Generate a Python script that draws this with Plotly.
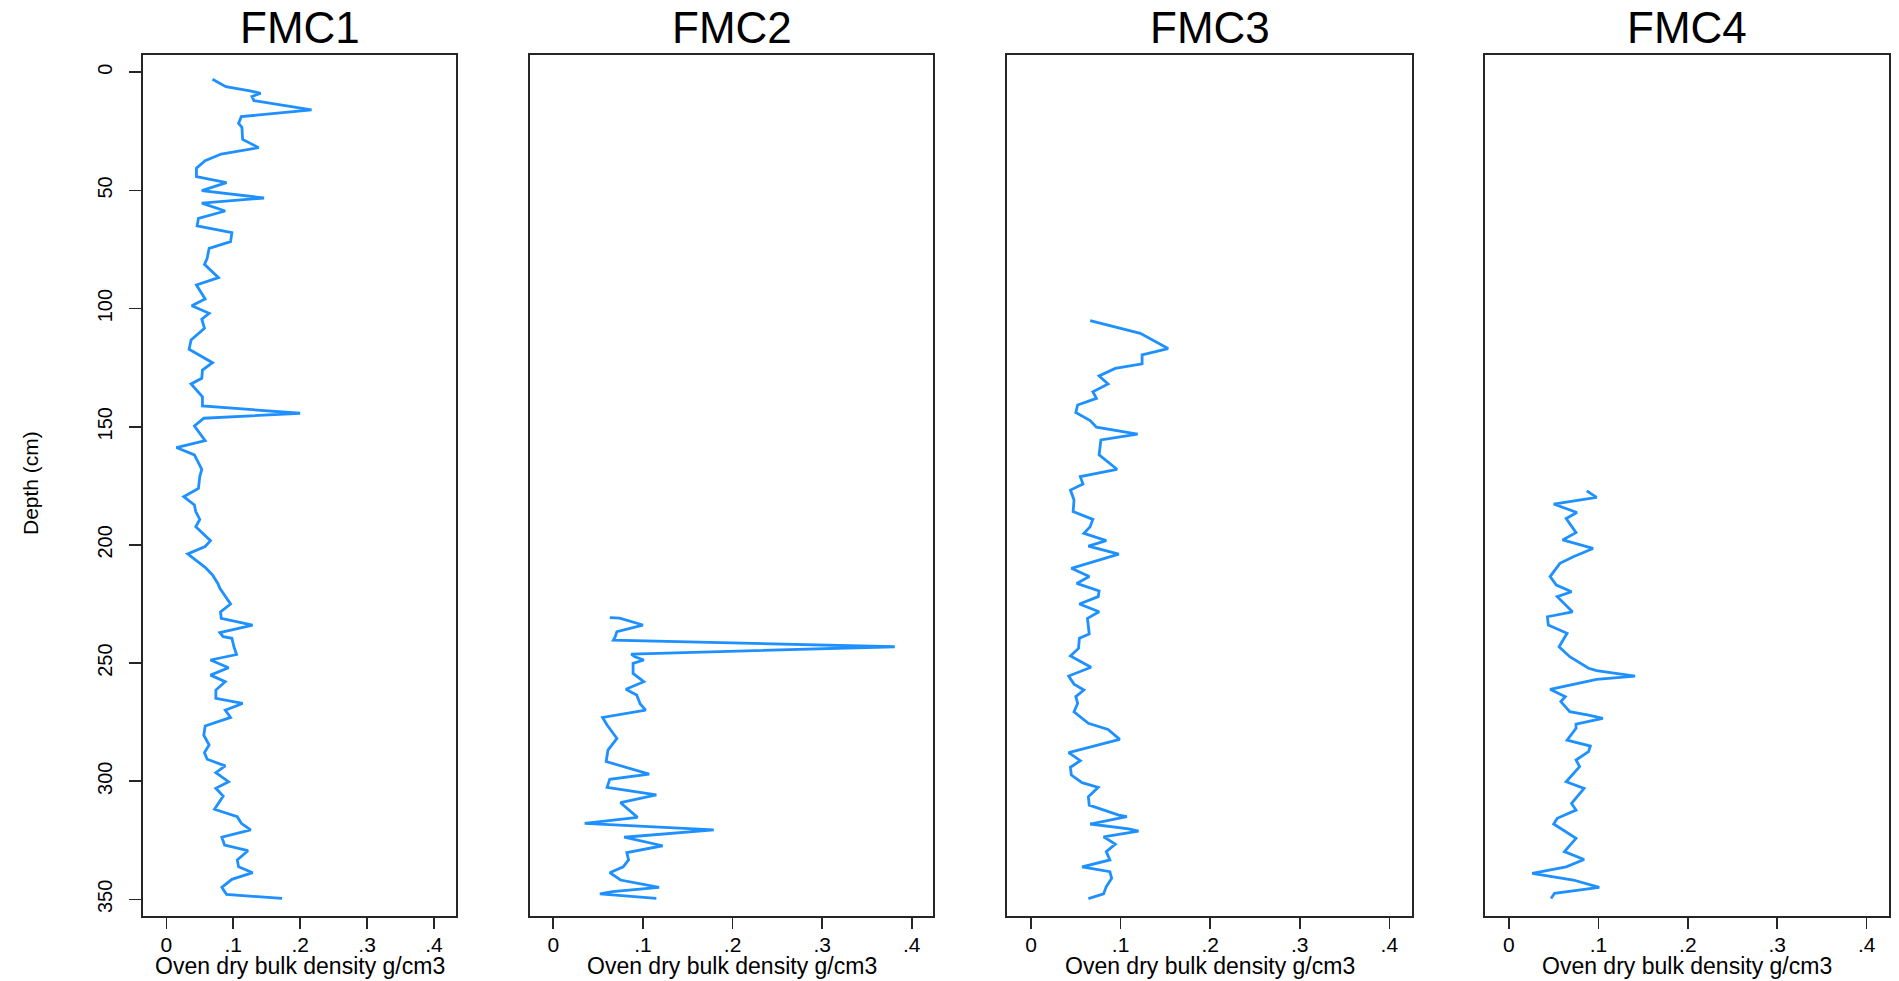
import plotly.graph_objects as go

# ---------------- data ----------------
CORES = ["FMC1", "FMC2", "FMC3", "FMC4"]

fmc1_depth = [3.0, 6.1, 7.9, 8.9, 10.3, 12.0, 15.9, 18.8, 21.6, 23.3, 28.4, 31.9, 34.6, 37.4,
              40.6, 44.2, 46.7, 50.1, 53.2, 55.4, 58.7, 61.8, 65.0, 67.9, 71.7, 74.5, 78.7,
              81.3, 86.9, 90.0, 95.9, 98.8, 102.0, 104.5, 108.3, 113.3, 117.2, 122.9, 126.0,
              129.5, 131.9, 137.3, 141.2, 144.3, 146.4, 149.7, 155.9, 158.8, 161.9, 168.0,
              171.1, 176.1, 179.6, 183.1, 185.9, 189.2, 192.3, 196.2, 198.2, 200.7, 203.8,
              206.4, 209.5, 212.7, 216.3, 218.4, 220.5, 225.0, 228.3, 231.1, 233.9, 237.1,
              238.8, 239.5, 243.1, 246.4, 248.7, 252.0, 255.1, 257.9, 261.4, 264.9, 267.1,
              269.9, 273.0, 276.6, 280.5, 284.7, 287.9, 290.7, 293.5, 296.4, 300.2, 303.0,
              306.3, 311.9, 315.0, 317.8, 320.6, 323.7, 327.0, 329.4, 333.3, 336.2, 338.7,
              341.5, 344.9, 347.9, 349.6]
fmc1_density = [0.069, 0.089, 0.125, 0.141, 0.128, 0.131, 0.217, 0.112, 0.108, 0.113, 0.114,
                0.138, 0.082, 0.058, 0.045, 0.045, 0.090, 0.053, 0.146, 0.053, 0.088, 0.048,
                0.046, 0.098, 0.096, 0.064, 0.061, 0.057, 0.078, 0.045, 0.058, 0.038, 0.064,
                0.053, 0.057, 0.037, 0.034, 0.069, 0.054, 0.053, 0.037, 0.054, 0.054, 0.200,
                0.056, 0.042, 0.058, 0.015, 0.042, 0.053, 0.050, 0.048, 0.026, 0.042, 0.044,
                0.050, 0.044, 0.058, 0.066, 0.058, 0.032, 0.044, 0.058, 0.069, 0.077, 0.080,
                0.085, 0.096, 0.081, 0.082, 0.129, 0.080, 0.085, 0.098, 0.101, 0.105, 0.066,
                0.093, 0.066, 0.088, 0.074, 0.074, 0.114, 0.088, 0.096, 0.058, 0.056, 0.064,
                0.057, 0.061, 0.088, 0.074, 0.093, 0.074, 0.085, 0.072, 0.106, 0.112, 0.126,
                0.083, 0.087, 0.122, 0.106, 0.108, 0.129, 0.098, 0.083, 0.090, 0.173]

fmc2_depth = [230.8, 231.0, 233.9, 236.7, 238.9, 240.3, 243.1, 246.2, 247.3, 248.7, 250.1,
              254.4, 257.9, 261.1, 263.5, 267.3, 269.9, 273.0, 276.2, 281.9, 286.8, 291.7,
              297.0, 299.2, 302.6, 305.8, 309.1, 315.3, 317.8, 320.6, 323.7, 324.8, 327.3,
              330.2, 333.3, 336.2, 338.7, 341.8, 344.9, 346.7, 347.7, 349.6]
fmc2_density = [0.063, 0.074, 0.100, 0.071, 0.069, 0.067, 0.381, 0.087, 0.091, 0.101, 0.089,
                0.089, 0.101, 0.081, 0.093, 0.097, 0.103, 0.055, 0.060, 0.071, 0.061, 0.059,
                0.107, 0.063, 0.060, 0.115, 0.075, 0.094, 0.035, 0.179, 0.079, 0.093, 0.122,
                0.082, 0.084, 0.078, 0.063, 0.075, 0.118, 0.066, 0.052, 0.115]

fmc3_depth = [105.1, 110.5, 116.9, 119.6, 123.4, 125.3, 128.5, 131.9, 135.2, 138.0, 140.8,
              144.0, 147.4, 150.2, 153.1, 155.6, 161.9, 168.0, 171.1, 174.2, 176.8, 181.0,
              185.9, 189.2, 192.3, 195.1, 198.2, 200.5, 203.9, 209.9, 213.4, 216.3, 219.5,
              221.9, 225.0, 228.3, 231.1, 237.7, 239.5, 243.8, 247.0, 251.8, 255.5, 258.9,
              261.4, 264.2, 267.1, 270.6, 275.5, 278.1, 282.3, 287.9, 291.3, 294.1, 297.4,
              300.6, 302.6, 306.6, 310.1, 314.3, 315.0, 318.1, 320.2, 321.1, 323.5, 326.6,
              329.8, 333.3, 336.2, 338.3, 341.1, 344.6, 347.7, 349.7]
fmc3_density = [0.066, 0.122, 0.153, 0.124, 0.124, 0.094, 0.076, 0.086, 0.069, 0.073, 0.052,
                0.050, 0.066, 0.073, 0.119, 0.078, 0.076, 0.096, 0.055, 0.058, 0.044, 0.048,
                0.047, 0.069, 0.066, 0.059, 0.084, 0.064, 0.098, 0.045, 0.065, 0.051, 0.076,
                0.075, 0.054, 0.076, 0.063, 0.065, 0.054, 0.053, 0.044, 0.067, 0.042, 0.048,
                0.059, 0.050, 0.052, 0.048, 0.064, 0.086, 0.099, 0.042, 0.055, 0.044, 0.045,
                0.057, 0.075, 0.064, 0.065, 0.098, 0.107, 0.066, 0.109, 0.120, 0.081, 0.094,
                0.084, 0.088, 0.057, 0.088, 0.090, 0.084, 0.081, 0.064]

fmc4_depth = [177.1, 179.9, 182.7, 186.3, 188.8, 194.8, 197.9, 201.5, 205.0, 207.8, 213.4,
              217.0, 219.8, 221.9, 228.3, 230.4, 233.9, 237.4, 243.1, 247.3, 252.2, 253.2,
              255.5, 256.9, 261.1, 264.2, 266.3, 270.6, 272.0, 273.4, 275.8, 277.6, 282.6,
              285.1, 287.5, 291.0, 293.8, 300.2, 303.0, 309.4, 312.2, 315.7, 318.1, 324.2,
              329.8, 333.1, 336.2, 339.0, 341.8, 344.9, 347.4, 349.6]
fmc4_density = [0.087, 0.098, 0.050, 0.076, 0.064, 0.075, 0.060, 0.094, 0.072, 0.057, 0.046,
                0.053, 0.070, 0.054, 0.071, 0.043, 0.044, 0.065, 0.056, 0.068, 0.089, 0.098,
                0.141, 0.098, 0.046, 0.063, 0.058, 0.068, 0.089, 0.105, 0.075, 0.075, 0.065,
                0.091, 0.089, 0.075, 0.079, 0.064, 0.084, 0.070, 0.075, 0.054, 0.050, 0.075,
                0.062, 0.084, 0.064, 0.026, 0.072, 0.101, 0.051, 0.047]

DEPTHS = [fmc1_depth, fmc2_depth, fmc3_depth, fmc4_depth]
DENSITIES = [fmc1_density, fmc2_density, fmc3_density, fmc4_density]

DEPTH_TICKS = [0, 50, 100, 150, 200, 250, 300, 350]
X_TICKS = [0, 0.1, 0.2, 0.3, 0.4]
X_TICK_TEXT = ["0", ".1", ".2", ".3", ".4"]
X_TITLE = "Oven dry bulk density g/cm3"
Y_TITLE = "Depth (cm)"

# ---------------- layout geometry (pixels) ----------------
W, H = 1899, 981
PANEL_PX = [(142.9, 456.1), (530.0, 933.3), (1007.3, 1411.7), (1485.0, 1889.0)]
X_RANGES = [(-0.035, 0.433), (-0.026, 0.424), (-0.0265, 0.425), (-0.0268, 0.425)]
TOP_PX, BOT_PX = 55.0, 915.7
Y_RANGE = [356.9, -7.3]

FONT = "Liberation Sans, Arial, Helvetica, sans-serif"
LINE_COLOR = "#1E90FF"
FRAME = "#262626"

def px_x(p):
    return p / W

def px_y(p):
    return 1 - p / H

fig = go.Figure()
layout = dict(
    width=W, height=H,
    margin=dict(l=0, r=0, t=0, b=0, autoexpand=False),
    paper_bgcolor="white", plot_bgcolor="white",
    showlegend=False,
    font=dict(family=FONT, color="black"),
)
annotations = []

for i, name in enumerate(CORES):
    n = "" if i == 0 else str(i + 1)
    fig.add_trace(go.Scatter(
        x=DENSITIES[i], y=DEPTHS[i], mode="lines",
        line=dict(color=LINE_COLOR, width=2.8),
        xaxis="x" + n, yaxis="y" + n, hoverinfo="skip", name=name,
    ))
    l, r = PANEL_PX[i]
    layout["xaxis" + n] = dict(
        domain=[px_x(l), px_x(r)], range=list(X_RANGES[i]), anchor="y" + n,
        tickvals=X_TICKS, ticktext=X_TICK_TEXT, ticks="outside", ticklen=11,
        tickwidth=1.6, tickcolor=FRAME, showline=True, linecolor=FRAME, linewidth=2,
        mirror=True, showgrid=False, zeroline=False, automargin=False,
        tickfont=dict(size=21, family=FONT, color="black"), ticklabelstandoff=-2,
    )
    ydict = dict(
        domain=[px_y(BOT_PX), px_y(TOP_PX)], range=Y_RANGE, anchor="x" + n,
        showline=True, linecolor=FRAME, linewidth=2, mirror=True,
        showgrid=False, zeroline=False, automargin=False,
    )
    if i == 0:
        ydict.update(tickvals=DEPTH_TICKS, ticks="outside", ticklen=12, tickwidth=1.6,
                     tickcolor=FRAME, tickangle=-90,
                     tickfont=dict(size=20, family=FONT, color="black"),
                     ticklabelstandoff=9)
    else:
        ydict.update(showticklabels=False, ticks="")
    layout["yaxis" + n] = ydict

    cx = px_x((l + r) / 2)
    annotations.append(dict(text=name, x=cx, y=px_y(27), xref="paper", yref="paper",
                            xanchor="center", yanchor="middle", showarrow=False,
                            font=dict(size=44, family=FONT, color="black")))
    annotations.append(dict(text=X_TITLE, x=cx, y=px_y(966), xref="paper", yref="paper",
                            xanchor="center", yanchor="middle", showarrow=False,
                            font=dict(size=23, family=FONT, color="black")))

annotations.append(dict(text=Y_TITLE, x=px_x(30), y=px_y(483), xref="paper", yref="paper",
                        xanchor="center", yanchor="middle", textangle=-90, showarrow=False,
                        font=dict(size=21, family=FONT, color="black")))
layout["annotations"] = annotations
fig.update_layout(**layout)
fig.write_html("out.html",
               config={"displayModeBar": False, "staticPlot": True},
               post_script="document.body.style.margin='0px';document.body.style.overflow='hidden';")
